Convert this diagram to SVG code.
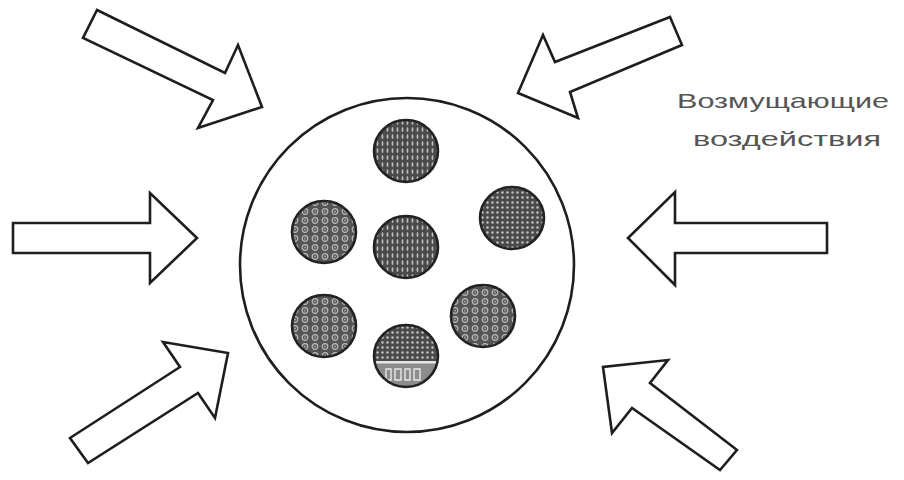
<svg xmlns="http://www.w3.org/2000/svg" width="904" height="480" viewBox="0 0 904 480">
<style>
.arrow{fill:#fff;stroke:#1e1e1e;stroke-width:2.6;stroke-linejoin:miter}
.big{fill:#fff;stroke:#1e1e1e;stroke-width:2.6}
.cell{stroke:#222;stroke-width:2.6}
.lbl{font-family:"Liberation Sans",Arial,sans-serif;font-size:21px;fill:#555}
</style>
<defs>
<pattern id="pv" width="5" height="7" patternUnits="userSpaceOnUse">
<rect width="5" height="7" fill="#4a4a4a"/>
<ellipse cx="2.5" cy="3.5" rx="0.9" ry="2.6" fill="#bdbdbd"/>
</pattern>
<pattern id="pd" width="5" height="5" patternUnits="userSpaceOnUse">
<rect width="5" height="5" fill="#4a4a4a"/>
<circle cx="2.5" cy="2.5" r="1.2" fill="#c4c4c4"/>
</pattern>
<pattern id="pr" width="10" height="9" patternUnits="userSpaceOnUse">
<rect width="10" height="9" fill="#555"/>
<circle cx="5" cy="4.5" r="2.8" fill="none" stroke="#bcbcbc" stroke-width="1.2"/>
<circle cx="5" cy="4.5" r="0.9" fill="#aaa"/>
</pattern>
<clipPath id="cb"><ellipse cx="406" cy="356" rx="31" ry="30"/></clipPath>
</defs>
<g id="arrows">
<polygon id="arrow-tl" class="arrow" points="97,10 225,73 238,45 262,107 198,128 213,100 83,38"/>
<polygon id="arrow-tr" class="arrow" points="670,17 555,62 543,35 518,93 578,118 570,92 682,45"/>
<polygon id="arrow-l" class="arrow" points="13,223 150,223 150,193 197,238 150,283 150,253 13,253"/>
<polygon id="arrow-r" class="arrow" points="827,223 675,223 675,192 628,238 675,285 675,253 827,253"/>
<polygon id="arrow-bl" class="arrow" points="70,438 180,367 163,342 228,353 215,418 198,393 88,463"/>
<polygon id="arrow-br" class="arrow" points="737,450 650,383 668,360 603,367 612,433 632,408 720,470"/>
</g>
<g id="body">
<circle class="big" cx="407" cy="265" r="167"/>
</g>
<g id="cell-top"><ellipse class="cell" cx="406" cy="151" rx="32" ry="31" fill="url(#pv)"/></g>
<g id="cell-mid-left"><ellipse class="cell" cx="324" cy="232" rx="32" ry="31" fill="url(#pr)"/></g>
<g id="cell-center"><ellipse class="cell" cx="406" cy="247" rx="32" ry="31" fill="url(#pv)"/></g>
<g id="cell-right"><ellipse class="cell" cx="512" cy="218" rx="32" ry="31" fill="url(#pd)"/></g>
<g id="cell-bottom-left"><ellipse class="cell" cx="324" cy="326" rx="32" ry="31" fill="url(#pr)"/></g>
<g id="cell-bottom-right"><ellipse class="cell" cx="483" cy="316" rx="32" ry="31" fill="url(#pr)"/></g>
<g id="cell-bottom">
<ellipse cx="406" cy="356" rx="32" ry="31" fill="url(#pd)"/>
<g clip-path="url(#cb)">
<rect x="370" y="362" width="72" height="30" fill="#8c8c8c"/>
<rect x="370" y="361" width="72" height="2.5" fill="#e6e6e6"/>
<path d="M386 369h5v11h-5zM395 369h6v11h-6zM405 369h5v11h-5zM414 369h6v11h-6z" fill="none" stroke="#e8e8e8" stroke-width="1.4"/>
</g>
<ellipse class="cell" cx="406" cy="356" rx="32" ry="31" fill="none"/>
</g>
<g id="label">
<text class="lbl" x="783" y="108" text-anchor="middle" textLength="212" lengthAdjust="spacingAndGlyphs">Возмущающие</text>
<text class="lbl" x="787" y="146" text-anchor="middle" textLength="188" lengthAdjust="spacingAndGlyphs">воздействия</text>
</g>
</svg>
